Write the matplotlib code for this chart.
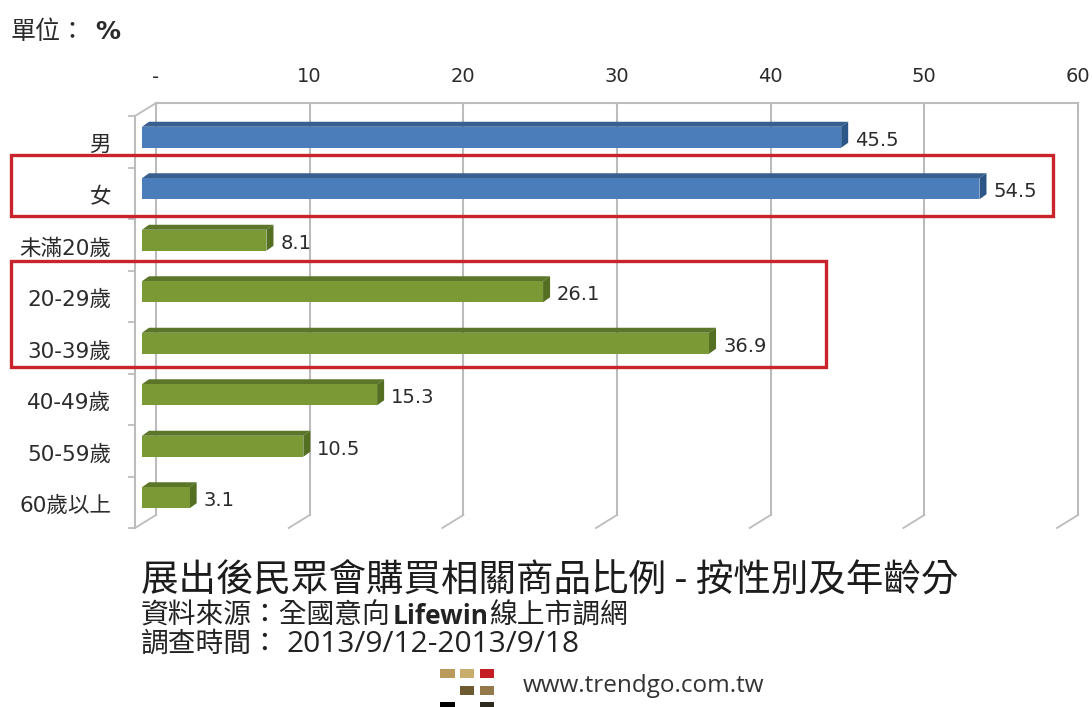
"""Horizontal pseudo-3D bars: purchase share by gender and age (trendgo survey)."""
import matplotlib.pyplot as plt
from matplotlib.patches import Rectangle

CATEGORIES = ["男", "女", "未滿20歲", "20-29歲", "30-39歲", "40-49歲", "50-59歲", "60歲以上"]
VALUES = [45.5, 54.5, 8.1, 26.1, 36.9, 15.3, 10.5, 3.1]
GROUPS = ["gender", "gender", "age", "age", "age", "age", "age", "age"]
XTICKS = [0, 10, 20, 30, 40, 50, 60]
XTICK_LABELS = ["-", "10", "20", "30", "40", "50", "60"]

W, H = 1092, 707
FACES = {
    "gender": ("#4a7dba", "#37608f", "#2c5687"),
    "age": ("#7b9a36", "#5b7529", "#546e22"),
}
INK = "#2b2b2b"
GRID = "#bcbcbc"
RED = "#c9242b"
TEXT_FONT = ["DejaVu Sans", "Noto Sans CJK TC"]
CJK_FONT = ["Noto Sans CJK TC", "DejaVu Sans"]

plt.rcParams["font.family"] = TEXT_FONT


def fx(x):
    return x / W


def fy(y):
    return 1 - y / H


fig = plt.figure(figsize=(W / 100, H / 100), dpi=100, facecolor="white")
# axes = back wall in x, front plane in y
ax = fig.add_axes([fx(156), fy(528), (1078 - 156) / W, (528 - 116) / H])
ax.set_xlim(0, 60)
ax.set_ylim(8, 0)
ax.axis("off")

px = 60 / (1078 - 156)   # data units per pixel, x
py = 8 / (528 - 116)     # data units per pixel, y
wall_dx, wall_dy = 21 * px, 13 * py
bar_x0 = -14 * px        # front of the bars relative to the back wall
bar_up = 4.5 * py
bar_h = 21 * py
depth_x, depth_y = 7 * px, 5 * py

# back wall, floor and side wall
for t in XTICKS:
    ax.plot([t, t], [-wall_dy, 8 - wall_dy], color=GRID, lw=1.5, clip_on=False, zorder=1)
    ax.plot([t, t - wall_dx], [8 - wall_dy, 8], color=GRID, lw=1.3, clip_on=False, zorder=1)
ax.plot([0, 60], [-wall_dy, -wall_dy], color=GRID, lw=1.5, clip_on=False, zorder=1)
ax.plot([-wall_dx, -wall_dx], [0, 8], color=GRID, lw=1.5, clip_on=False, zorder=1)
ax.plot([-wall_dx, 0], [0, -wall_dy], color=GRID, lw=1.3, clip_on=False, zorder=1)
for i in range(len(CATEGORIES) + 1):
    ax.plot([-wall_dx - 6 * px, -wall_dx], [i, i], color=GRID, lw=1.3, clip_on=False, zorder=1)

for t, label in zip(XTICKS, XTICK_LABELS):
    ax.text(t, -wall_dy - 26 * py, label, ha="center", va="center", fontsize=14, color=INK)

# bars: front, top and side faces
for i, (cat, v, g) in enumerate(zip(CATEGORIES, VALUES, GROUPS)):
    front, top, side = FACES[g]
    y0 = i + 0.5 - bar_up - bar_h / 2
    y1 = y0 + bar_h
    x0, x1 = bar_x0, bar_x0 + v
    ax.fill([x0, x0 + depth_x, x1 + depth_x, x1], [y0, y0 - depth_y, y0 - depth_y, y0],
            color=top, lw=0, zorder=3, clip_on=False)
    ax.fill([x1, x1 + depth_x, x1 + depth_x, x1], [y0, y0 - depth_y, y1 - depth_y, y1],
            color=side, lw=0, zorder=3, clip_on=False)
    ax.fill([x0, x1, x1, x0], [y0, y0, y1, y1], color=front, lw=0, zorder=4, clip_on=False)
    ax.text(x1 + depth_x + 7 * px, (y0 + y1) / 2 + 3 * py, f"{v}", ha="left", va="center",
            fontsize=14, color=INK, zorder=6)
    ax.text(-wall_dx - 24 * px, i + 0.5 + 3.5 * py, cat, ha="right", va="center",
            fontsize=15.5, color=INK, zorder=6)

# red highlight boxes
for x0, y0, x1, y1 in [(11, 155, 1053, 216), (11, 261, 826, 367)]:
    fig.add_artist(Rectangle((fx(x0), fy(y1)), (x1 - x0) / W, (y1 - y0) / H,
                             transform=fig.transFigure, fill=False,
                             edgecolor=RED, linewidth=2.4, zorder=7))

fig.text(fx(11), fy(32), "單位：", fontsize=18, color=INK, va="center", family=CJK_FONT)
fig.text(fx(95), fy(32), "%", fontsize=18, color=INK, va="center", fontweight="bold")

fig.text(fx(141), fy(581), "展出後民眾會購買相關商品比例 - 按性別及年齡分", fontsize=27,
         color="#1c1c1c", va="center", family=CJK_FONT)
fig.text(fx(141), fy(616), "資料來源：全國意向", fontsize=20, color="#222222", va="center", family=CJK_FONT)
fig.text(fx(393), fy(616), "Lifewin", fontsize=19, color="#222222", va="center",
         fontweight="bold", family="Open Sans")
fig.text(fx(489), fy(616), "線上市調網", fontsize=20, color="#222222", va="center", family=CJK_FONT)
fig.text(fx(141), fy(644), "調查時間：", fontsize=20, color="#222222", va="center", family=CJK_FONT)
fig.text(fx(286), fy(644), "2013/9/12-2013/9/18", fontsize=21.5, color="#222222", va="center",
         family="Open Sans")
fig.text(fx(523), fy(686), "www.trendgo.com.tw", fontsize=17.5, color="#333333", va="center",
         family="Open Sans")

# logo squares
LOGO = [
    (440, 669, 15, 9, "#b99a5a"), (460, 669, 14, 9, "#c9ad6a"), (480, 669, 14, 9, "#c41e24"),
    (460, 686, 14, 9, "#6d5a30"), (480, 686, 14, 9, "#94794a"),
    (440, 702, 15, 5, "#000000"), (480, 702, 14, 5, "#2f2a20"),
]
for x, y, w, h, c in LOGO:
    fig.add_artist(Rectangle((fx(x), fy(y + h)), w / W, h / H, transform=fig.transFigure,
                             facecolor=c, edgecolor="none"))

fig.savefig("out.png", dpi=100)
